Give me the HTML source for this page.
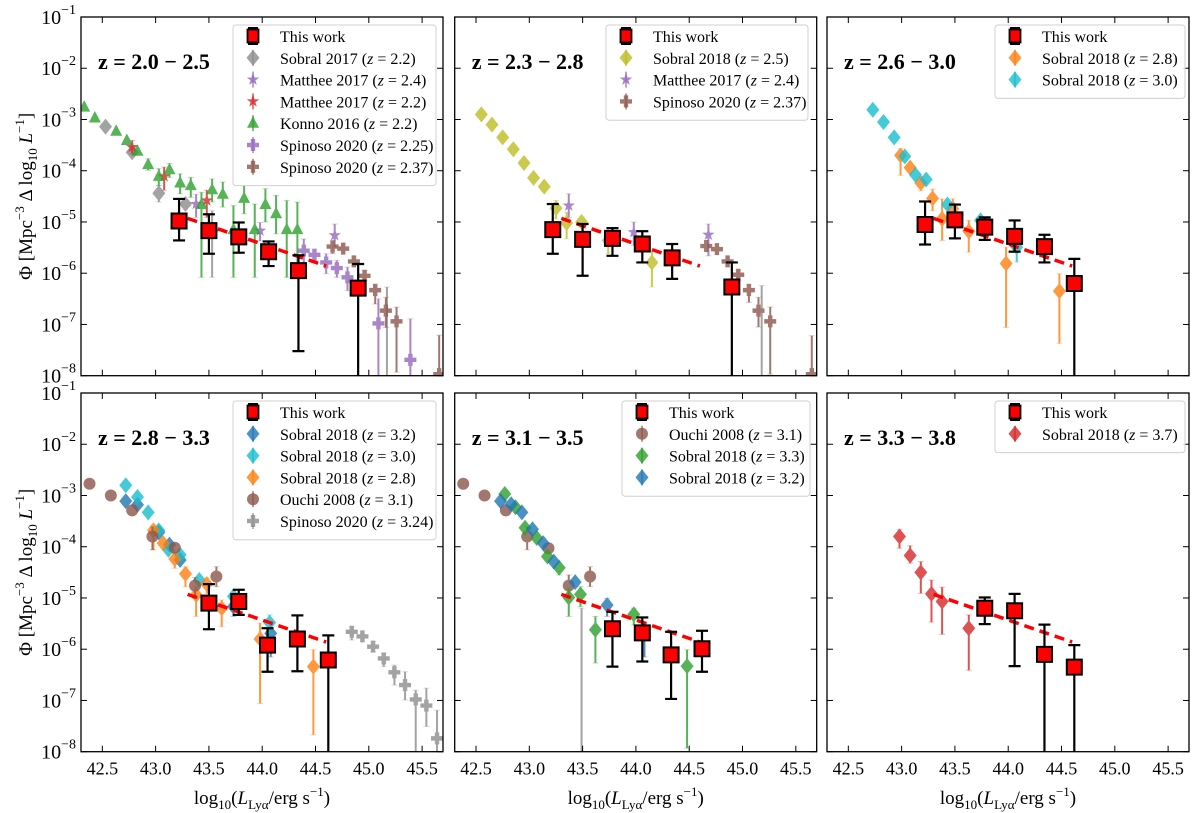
<!DOCTYPE html>
<html><head><meta charset="utf-8"><style>
html,body{margin:0;padding:0;background:#fff;}
svg{display:block;font-family:"Liberation Serif","DejaVu Serif",serif;}
</style></head><body>
<svg id="fig" xmlns="http://www.w3.org/2000/svg" width="1200" height="813" viewBox="0 0 1200 813">
<rect width="1200" height="813" fill="#fff"/>
</svg>
<script>
// ---------- data: [log10 L, log10 Phi, upper, lower] (null = no error bar, -9 = off-axis) ----------
const xTicks = [42.5, 43.0, 43.5, 44.0, 44.5, 45.0, 45.5];
const yTicks = [-1, -2, -3, -4, -5, -6, -7, -8];
const fitX = [43.30, 44.60];
const fitY = [-4.93, -5.86];
const titles = ["2.0 − 2.5", "2.3 − 2.8", "2.6 − 3.0", "2.8 − 3.3", "3.1 − 3.5", "3.3 − 3.8"];

const p1This = [[43.22,-4.98,-4.55,-5.36],[43.50,-5.17,-4.85,-5.62],[43.78,-5.29,-5.01,-5.60],[44.06,-5.58,-5.38,-5.86],[44.34,-5.95,-5.65,-7.52],[44.90,-6.29,-5.82,-9]];
const p1Sobral17 = [[42.53,-3.14,null,null],[42.78,-3.64,null,null],[43.03,-4.44,-4.29,-4.61],[43.28,-4.65,null,null],[43.53,-5.17,-4.78,-6.08],[45.17,-9,-6.27,-9]];
const p1Matthee24 = [[43.38,-4.65,-4.46,-4.91],[43.98,-5.17,-5.01,-5.37],[44.68,-5.26,-5.04,-5.49]];
const p1Matthee22 = [[42.78,-3.54,-3.41,-3.67],[43.08,-4.11,-3.93,-4.38],[43.48,-4.58,-4.38,-4.91]];
const p1Konno = [[42.33,-2.76,null,null],[42.43,-2.97,null,null],[42.63,-3.23,null,null],[42.73,-3.41,null,null],[42.83,-3.62,null,null],[42.93,-3.88,-3.77,-3.99],[43.03,-4.11,-3.96,-4.29],[43.13,-3.98,-3.86,-4.13],[43.23,-4.24,-4.06,-4.45],[43.33,-4.29,-4.13,-4.52],[43.43,-4.66,-4.42,-6.08],[43.53,-4.37,-4.16,-4.61],[43.63,-4.46,-4.22,-4.71],[43.73,-5.15,-4.68,-6.08],[43.83,-4.54,-4.29,-4.84],[43.93,-5.15,-4.65,-6.08],[44.03,-4.66,-4.35,-5.00],[44.13,-4.84,-4.48,-5.23],[44.23,-5.15,-4.58,-6.08],[44.33,-5.15,-4.61,-6.08]];
const p1Spinoso225 = [[44.39,-5.56,-5.33,-5.82],[44.49,-5.64,-5.53,-5.75],[44.60,-5.79,-5.62,-6.01],[44.70,-5.90,-5.75,-6.08],[44.80,-6.08,-5.88,-6.34],[45.09,-6.98,-6.50,-9],[45.39,-7.69,-6.89,-9]];
const p1Spinoso237 = [[44.66,-5.48,-5.36,-5.62],[44.76,-5.52,null,null],[44.86,-5.77,-5.69,-5.85],[44.96,-6.05,-5.95,-6.14],[45.06,-6.33,-6.21,-6.60],[45.16,-6.73,-6.47,-7.06],[45.26,-6.94,-6.66,-7.93],[45.66,-7.97,-7.21,-9]];

const p2This = [[43.22,-5.15,-4.65,-5.62],[43.50,-5.34,-5.04,-6.05],[43.78,-5.32,-5.12,-5.66],[44.06,-5.43,-5.18,-5.79],[44.34,-5.70,-5.43,-6.11],[44.90,-6.27,-5.79,-9]];
const p2Sobral25 = [[42.55,-2.90,null,null],[42.65,-3.10,null,null],[42.75,-3.35,null,null],[42.85,-3.58,null,null],[42.95,-3.85,null,null],[43.04,-4.14,null,null],[43.14,-4.31,null,null],[43.25,-4.73,-4.58,-4.94],[43.35,-5.02,-4.81,-5.33],[43.49,-5.00,-4.90,-5.10],[43.74,-5.36,-5.20,-5.62],[44.15,-5.79,-5.56,-6.27]];
const p2Matthee24 = [[43.37,-4.68,-4.45,-4.91],[43.98,-5.20,-5.00,-5.46],[44.68,-5.25,-5.04,-5.66]];
const p2Spinoso237 = [[44.66,-5.47,null,null],[44.76,-5.53,null,null],[44.86,-5.77,null,null],[44.96,-6.03,-5.95,-6.14],[45.06,-6.33,-6.21,-6.57],[45.15,-6.73,-6.47,-7.05],[45.26,-6.94,-6.66,-7.97],[45.65,-7.97,-7.22,-9]];
const p2Gray = [[45.18,-9,-6.24,-9]];

const p3This = [[43.22,-5.05,-4.60,-5.44],[43.50,-4.96,-4.66,-5.32],[43.78,-5.10,-4.91,-5.35],[44.06,-5.28,-4.97,-5.58],[44.34,-5.48,-5.25,-5.79],[44.62,-6.20,-5.72,-9]];
const p3Sobral30 = [[42.73,-2.81,null,null],[42.83,-3.05,null,null],[42.93,-3.35,null,null],[43.03,-3.72,null,null],[43.13,-4.08,null,null],[43.23,-4.17,null,null],[43.43,-4.66,null,null],[43.74,-4.97,null,null],[44.08,-5.49,-5.29,-5.78]];
const p3Sobral28 = [[42.99,-3.70,-3.57,-4.09],[43.08,-3.94,null,null],[43.18,-4.24,-4.12,-4.39],[43.29,-4.54,-4.36,-4.78],[43.38,-4.94,-4.55,-5.36],[43.48,-4.74,-4.55,-4.91],[43.63,-5.18,-4.97,-5.59],[43.98,-5.81,-5.49,-7.06],[44.48,-6.35,-6.01,-7.37]];

const p4This = [[43.50,-5.10,-4.73,-5.61],[43.78,-5.07,-4.84,-5.33],[44.05,-5.92,-5.59,-6.44],[44.33,-5.80,-5.34,-6.43],[44.62,-6.21,-5.73,-9]];
const p4Sobral32 = [[42.72,-3.11,null,null],[42.83,-3.18,null,null],[43.03,-3.72,null,null],[43.13,-3.96,null,null],[43.23,-4.26,null,null],[43.73,-5.17,-5.00,-5.36],[44.08,-5.69,-5.49,-6.15]];
const p4Sobral30 = [[42.72,-2.80,null,null],[42.83,-3.03,null,null],[42.93,-3.33,null,null],[43.03,-3.68,null,null],[43.12,-4.06,null,null],[43.23,-4.16,null,null],[43.41,-4.65,null,null],[43.73,-4.97,null,null],[44.07,-5.48,-5.33,-5.69]];
const p4Sobral28 = [[42.98,-3.68,-3.57,-4.06],[43.07,-3.93,null,null],[43.18,-4.24,-4.13,-4.42],[43.28,-4.53,-4.39,-4.78],[43.38,-4.94,-4.78,-5.36],[43.48,-4.73,-4.61,-4.91],[43.62,-5.20,-5.04,-5.56],[43.98,-5.80,-5.49,-7.06],[44.48,-6.34,-6.01,-7.67]];
const p4Ouchi = [[42.38,-2.77,null,null],[42.58,-3.00,null,null],[42.78,-3.29,null,null],[42.97,-3.80,-3.61,-4.06],[43.18,-4.02,null,null],[43.37,-4.76,-4.60,-5.00],[43.57,-4.58,-4.39,-4.78]];
const p4Spinoso324 = [[44.84,-5.66,-5.56,-5.82],[44.94,-5.75,null,null],[45.04,-5.95,-5.85,-6.05],[45.14,-6.18,-6.08,-6.34],[45.24,-6.45,-6.31,-6.70],[45.34,-6.70,-6.44,-6.99],[45.44,-6.98,-6.80,-9],[45.54,-7.10,-6.76,-7.51],[45.64,-7.74,-7.19,-9]];

const p5This = [[43.78,-5.60,-5.27,-6.34],[44.06,-5.68,-5.38,-6.24],[44.33,-6.11,-5.66,-6.97],[44.62,-5.99,-5.64,-6.44]];
const p5Ouchi = [[42.38,-2.77,null,null],[42.58,-3.00,null,null],[42.78,-3.29,null,null],[42.98,-3.80,-3.61,-4.06],[43.18,-4.03,null,null],[43.37,-4.76,-4.55,-5.00],[43.57,-4.58,-4.39,-4.78]];
const p5Sobral33 = [[42.77,-2.97,null,null],[42.87,-3.23,null,null],[42.96,-3.63,null,null],[43.07,-3.83,null,null],[43.17,-4.19,null,null],[43.28,-4.41,null,-4.55],[43.37,-4.99,-4.81,-5.36],[43.48,-4.93,-4.78,-5.17],[43.62,-5.62,-5.36,-6.27],[43.98,-5.32,-5.20,-5.53],[44.48,-6.33,-6.01,-7.93]];
const p5Sobral32 = [[42.73,-3.11,null,null],[42.83,-3.17,null,null],[42.93,-3.33,null,null],[43.03,-3.66,null,null],[43.13,-3.93,null,null],[43.23,-4.29,null,null],[43.43,-4.69,null,null],[43.73,-5.14,-5.01,-5.36],[44.08,-5.69,-5.49,-6.15]];
const p5Gray = [[43.49,-9,-5.20,-9]];

const p6This = [[43.78,-5.20,-4.99,-5.51],[44.06,-5.25,-4.92,-6.33],[44.34,-6.10,-5.52,-9],[44.62,-6.35,-5.92,-9]];
const p6Sobral37 = [[42.98,-3.80,-3.66,-4.03],[43.08,-4.17,-3.98,-4.32],[43.18,-4.50,-4.29,-4.91],[43.28,-4.92,-4.65,-5.47],[43.38,-5.07,-4.79,-5.71],[43.63,-5.59,-5.33,-6.41]];

// ---------- layout ----------
const NS = "http://www.w3.org/2000/svg";
const svg = document.getElementById("fig");
const colL = [81, 454.7, 827], rowT = [17, 393];
const PW = 362, PH = 358.7;
const XMIN = 42.3, XMAX = 45.696, YMAX = -1, YMIN = -8;
const C = {green:"#2ca02c", gray:"#8c8c8c", purple:"#9467bd", red:"#d62728", brown:"#8c564b", yellow:"#bcbd22", orange:"#ff7f0e", cyan:"#17becf", blue:"#1f77b4"};

function el(tag, attrs, parent){const e=document.createElementNS(NS,tag);for(const k in attrs)e.setAttribute(k,attrs[k]);(parent||svg).appendChild(e);return e;}
function markerPath(shape){
  if(shape==="D") return "M0,-8L6.5,0L0,8L-6.5,0Z";
  if(shape==="^") return "M0,-7L6,4.5L-6,4.5Z";
  if(shape==="*"){let d="";for(let i=0;i<10;i++){const r=i%2?2.6:6.5,a=-Math.PI/2+i*Math.PI/5;d+=(i?"L":"M")+(r*Math.cos(a)).toFixed(2)+","+(r*Math.sin(a)).toFixed(2);}return d+"Z";}
  if(shape==="P") return "M-2.2,-6H2.2V-2.2H6V2.2H2.2V6H-2.2V2.2H-6V-2.2H-2.2Z";
  if(shape==="o") return "M-6,0A6,6 0 1,0 6,0A6,6 0 1,0 -6,0Z";
  return "M-7.5,-7.5H7.5V7.5H-7.5Z";
}

const panels = [
 {title:titles[0], legendX:233, legendW:203, series:[
   {data:p1Sobral17, color:C.gray, shape:"D", label:"Sobral 2017", z:"2.2", key:"sobral-2017"},
   {data:p1Matthee24, color:C.purple, shape:"*", label:"Matthee 2017", z:"2.4", key:"matthee-2017-z24"},
   {data:p1Matthee22, color:C.red, shape:"*", label:"Matthee 2017", z:"2.2", key:"matthee-2017-z22"},
   {data:p1Konno, color:C.green, shape:"^", label:"Konno 2016", z:"2.2", key:"konno-2016"},
   {data:p1Spinoso225, color:C.purple, shape:"P", label:"Spinoso 2020", z:"2.25", key:"spinoso-2020-z225"},
   {data:p1Spinoso237, color:C.brown, shape:"P", label:"Spinoso 2020", z:"2.37", key:"spinoso-2020-z237"}], thisW:p1This},
 {title:titles[1], legendX:606, legendW:202, series:[
   {data:p2Sobral25, color:C.yellow, shape:"D", label:"Sobral 2018", z:"2.5", key:"sobral-2018-z25"},
   {data:p2Matthee24, color:C.purple, shape:"*", label:"Matthee 2017", z:"2.4", key:"matthee-2017-z24"},
   {data:p2Spinoso237, color:C.brown, shape:"P", label:"Spinoso 2020", z:"2.37", key:"spinoso-2020-z237"},
   {data:p2Gray, color:C.gray, shape:"P", label:null, key:"spinoso-extra"}], thisW:p2This},
 {title:titles[2], legendX:995, legendW:190, series:[
   {data:p3Sobral28, color:C.orange, shape:"D", label:"Sobral 2018", z:"2.8", key:"sobral-2018-z28"},
   {data:p3Sobral30, color:C.cyan, shape:"D", label:"Sobral 2018", z:"3.0", key:"sobral-2018-z30"}], thisW:p3This},
 {title:titles[3], legendX:233, legendW:203, series:[
   {data:p4Sobral32, color:C.blue, shape:"D", label:"Sobral 2018", z:"3.2", key:"sobral-2018-z32"},
   {data:p4Sobral30, color:C.cyan, shape:"D", label:"Sobral 2018", z:"3.0", key:"sobral-2018-z30"},
   {data:p4Sobral28, color:C.orange, shape:"D", label:"Sobral 2018", z:"2.8", key:"sobral-2018-z28"},
   {data:p4Ouchi, color:C.brown, shape:"o", label:"Ouchi 2008", z:"3.1", key:"ouchi-2008"},
   {data:p4Spinoso324, color:C.gray, shape:"P", label:"Spinoso 2020", z:"3.24", key:"spinoso-2020-z324"}], thisW:p4This},
 {title:titles[4], legendX:622, legendW:188, series:[
   {data:p5Ouchi, color:C.brown, shape:"o", label:"Ouchi 2008", z:"3.1", key:"ouchi-2008"},
   {data:p5Sobral33, color:C.green, shape:"D", label:"Sobral 2018", z:"3.3", key:"sobral-2018-z33"},
   {data:p5Sobral32, color:C.blue, shape:"D", label:"Sobral 2018", z:"3.2", key:"sobral-2018-z32"},
   {data:p5Gray, color:C.gray, shape:"P", label:null, key:"gray-extra"}], thisW:p5This},
 {title:titles[5], legendX:995, legendW:190, series:[
   {data:p6Sobral37, color:C.red, shape:"D", label:"Sobral 2018", z:"3.7", key:"sobral-2018-z37"}], thisW:p6This}
];

panels.forEach((p, i) => {
  const col = i % 3, row = Math.floor(i / 3);
  const L = colL[col], T = rowT[row];
  const xs = v => L + (v - XMIN) / (XMAX - XMIN) * PW;
  const ys = v => T + (YMAX - v) / (YMAX - YMIN) * PH;
  const g = el("g", {});
  
  
  const cp = el("clipPath", {id: "clip" + i}, g);
  el("rect", {x: L, y: T, width: PW, height: PH}, cp);
  const plot = el("g", {"clip-path": "url(#clip" + i + ")"}, g);
  
  

  function drawSeries(s, isThis) {
    const sg = el("g", {opacity: isThis ? 1 : 0.8}, plot);
    
    
    const col = isThis ? "#000" : s.color;
    const sw = isThis ? 2.2 : 2;
    const cap = isThis ? 6 : 3;
    s.data.forEach(d => {
      const cx = xs(d[0]);
      if (d[2] !== null || d[3] !== null) {
        const up = d[2] !== null ? d[2] : d[1];
        const dn = d[3] !== null ? d[3] : d[1];
        const eb = el("line", {x1: cx, x2: cx, y1: ys(up), y2: ys(Math.max(dn, -8.5)), stroke: col, "stroke-width": sw}, sg);
        
        
        if (d[2] !== null) el("line", {x1: cx - cap, x2: cx + cap, y1: ys(up), y2: ys(up), stroke: col, "stroke-width": isThis ? 2.2 : 1, opacity: isThis ? 1 : 0.4}, sg);
        if (d[3] !== null && dn > -8) el("line", {x1: cx - cap, x2: cx + cap, y1: ys(dn), y2: ys(dn), stroke: col, "stroke-width": isThis ? 2.2 : 1, opacity: isThis ? 1 : 0.4}, sg);
      }
      if (d[1] > -8.5) {
        const m = el("path", {d: markerPath(isThis ? "s" : s.shape), transform: "translate(" + cx + "," + ys(d[1]) + ")", fill: isThis ? "#ff0000" : s.color, stroke: isThis ? "#000" : "none", "stroke-width": 2}, sg);
        
        
      }
    });
  }
  p.series.forEach(s => drawSeries(s, false));
  const fit = el("line", {x1: xs(fitX[0]), y1: ys(fitY[0]), x2: xs(fitX[1]), y2: ys(fitY[1]), stroke: "#ff0000", "stroke-width": 3.5, "stroke-dasharray": "10,6"}, plot);
  
  
  drawSeries({data: p.thisW}, true);

  const fr = el("rect", {x: L, y: T, width: PW, height: PH, fill: "none", stroke: "#000", "stroke-width": 1.3}, g);
  
  
  xTicks.forEach(t => {
    const x = xs(t);
    el("line", {x1: x, x2: x, y1: T + PH, y2: T + PH - 6, stroke: "#000", "stroke-width": 1}, g);
    el("line", {x1: x, x2: x, y1: T, y2: T + 6, stroke: "#000", "stroke-width": 1}, g);
    if (row === 1) {
      const tl = el("text", {x: x, y: T + PH + 23, "text-anchor": "middle", "font-size": 18}, g);
      tl.textContent = t.toFixed(1);
      
      
    }
  });
  yTicks.forEach(t => {
    const y = ys(t);
    el("line", {x1: L, x2: L + 6, y1: y, y2: y, stroke: "#000", "stroke-width": 1}, g);
    el("line", {x1: L + PW, x2: L + PW - 6, y1: y, y2: y, stroke: "#000", "stroke-width": 1}, g);
    if (col === 0) {
      const tl = el("text", {x: L - 5, y: y + 7, "text-anchor": "end", "font-size": 20}, g);
      
      
      const a = el("tspan", {}, tl); a.textContent = "10";
      const b = el("tspan", {dy: -10, "font-size": 14}, tl); b.textContent = "−" + (-t);
    }
  });
  const ti = el("text", {x: L + 17, y: T + 52, "font-size": 22, "font-weight": "bold"}, g);
  ti.textContent = "z = " + p.title;
  
  
  const entries = [{label: "This work", z: null, color: "#000", shape: "s"}].concat(p.series.filter(s => s.label));
  const lg = el("g", {}, g);
  
  
  const rowH = 21.8;
  el("rect", {x: p.legendX, y: T + 8, width: p.legendW, height: entries.length * rowH + 8, rx: 3, fill: "#fff", "fill-opacity": 0.85, stroke: "#d0d0d0", "stroke-width": 1}, lg);
  entries.forEach((e, k) => {
    const ey = T + 19 + k * rowH;
    const mx = p.legendX + 20;
    const eg = el("g", {}, lg);
    
    
    if (e.shape === "s") {
      el("line", {x1: mx, x2: mx, y1: ey - 8, y2: ey + 8, stroke: "#000", "stroke-width": 2}, eg);
      el("line", {x1: mx - 5, x2: mx + 5, y1: ey - 8, y2: ey - 8, stroke: "#000", "stroke-width": 2}, eg);
      el("line", {x1: mx - 5, x2: mx + 5, y1: ey + 8, y2: ey + 8, stroke: "#000", "stroke-width": 2}, eg);
      el("rect", {x: mx - 5.5, y: ey - 6.5, width: 11, height: 13, fill: "#ff0000", stroke: "#000", "stroke-width": 1.8}, eg);
    } else {
      el("line", {x1: mx, x2: mx, y1: ey - 8, y2: ey + 8, stroke: e.color, "stroke-width": 2, opacity: 0.6}, eg);
      el("path", {d: markerPath(e.shape), transform: "translate(" + mx + "," + ey + ")", fill: e.color, opacity: 0.8}, eg);
    }
    const tx = el("text", {x: p.legendX + 47, y: ey + 6, "font-size": 16}, eg);
    const a = el("tspan", {}, tx); a.textContent = e.label;
    if (e.z) {
      const b = el("tspan", {}, tx); b.textContent = " (";
      const c = el("tspan", {"font-style": "italic"}, tx); c.textContent = "z";
      const d = el("tspan", {}, tx); d.textContent = " = " + e.z + ")";
    }
  });
  if (row === 1) {
    const xl = el("text", {x: L + PW / 2, y: 804, "text-anchor": "middle", "font-size": 19}, g);
    
    
    const a = el("tspan", {}, xl); a.textContent = "log";
    const b = el("tspan", {dy: 5, "font-size": 13}, xl); b.textContent = "10";
    const c = el("tspan", {dy: -5}, xl); c.textContent = "(";
    const d = el("tspan", {"font-style": "italic"}, xl); d.textContent = "L";
    const e = el("tspan", {dy: 5, "font-size": 13}, xl); e.textContent = "Lyα";
    const f = el("tspan", {dy: -5}, xl); f.textContent = "/erg s";
    const h = el("tspan", {dy: -8, "font-size": 13}, xl); h.textContent = "−1";
    const k = el("tspan", {dy: 8}, xl); k.textContent = ")";
  }
  if (col === 0) {
    const cy = T + PH / 2;
    const yl = el("text", {x: 0, y: 0, "text-anchor": "middle", "font-size": 19, transform: "translate(32," + cy + ") rotate(-90)"}, g);
    
    
    const a = el("tspan", {}, yl); a.textContent = "Φ [Mpc";
    const b = el("tspan", {dy: -8, "font-size": 13}, yl); b.textContent = "−3";
    const c = el("tspan", {dy: 8}, yl); c.textContent = " Δ log";
    const d = el("tspan", {dy: 5, "font-size": 13}, yl); d.textContent = "10";
    const e = el("tspan", {dy: -5, "font-style": "italic"}, yl); e.textContent = " L";
    const f = el("tspan", {dy: -8, "font-size": 13}, yl); f.textContent = "−1";
    const h = el("tspan", {dy: 8}, yl); h.textContent = "]";
  }
});
</script>
</body></html>
